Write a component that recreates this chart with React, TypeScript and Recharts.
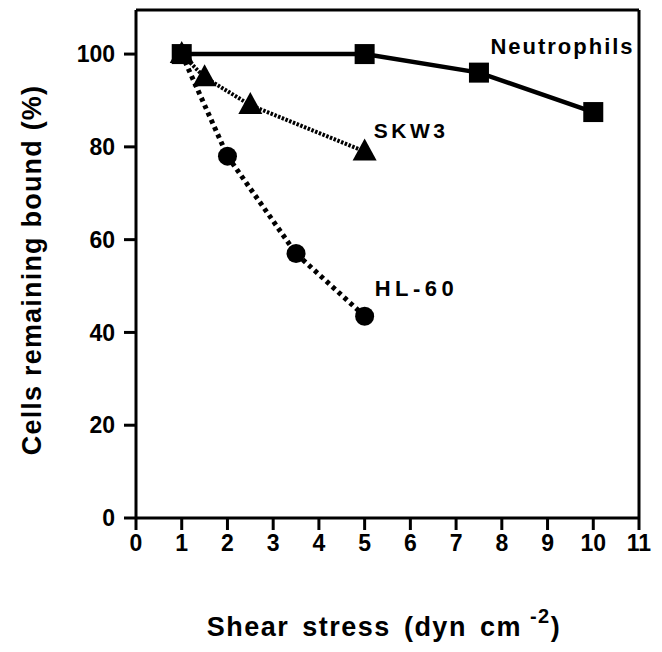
import React from "react";
import {
  LineChart,
  Line,
  XAxis,
  YAxis,
  ReferenceLine,
  ReferenceDot,
} from "recharts";

// values
const neutroX = [1, 5, 7.5, 10];
const neutroY = [100, 100, 96, 87.5];
const skw3X = [1, 1.5, 2.5, 5];
const skw3Y = [100, 95, 89, 79];
const hl60X = [1, 2, 3.5, 5];
const hl60Y = [100, 78, 57, 43.5];

const xTicks = [0, 1, 2, 3, 4, 5, 6, 7, 8, 9, 10, 11];
const yTicks = [0, 20, 40, 60, 80, 100];

const labelNames = ["Neutrophils", "SKW3", "HL-60"];
const labelX = [7.75, 5.2, 5.22];
const labelY = [101.7, 83.5, 49.4];

const FONT = '"Liberation Sans", Arial, Helvetica, sans-serif';

const toPoints = (xs: number[], ys: number[]) =>
  xs.map((x, i) => ({ x, y: ys[i] }));

const squareDot = (props: any) => {
  const { cx, cy, index } = props;
  return <rect key={"s" + index} x={cx - 10} y={cy - 10} width={20} height={20} fill="#000" />;
};

const triangleDot = (props: any) => {
  const { cx, cy, index } = props;
  return (
    <polygon
      key={"t" + index}
      points={`${cx},${cy - 13} ${cx - 12},${cy + 9} ${cx + 12},${cy + 9}`}
      fill="#000"
    />
  );
};

const circleDot = (props: any) => {
  const { cx, cy, index } = props;
  return <circle key={"c" + index} cx={cx} cy={cy} r={9.5} fill="#000" />;
};

const labelSize = [22, 21, 22];
const labelSpacing = [2, 3.5, 4.5];

const annotation = (text: string, size: number, spacing: number) => (props: any) => {
  const { x, y } = props.viewBox;
  return (
    <text
      x={x}
      y={y}
      dominantBaseline="central"
      fontFamily={FONT}
      fontWeight={700}
      fontSize={size}
      letterSpacing={spacing}
      fill="#000"
    >
      {text}
    </text>
  );
};

const xTitle = () => (
  <text
    x={384}
    y={636}
    textAnchor="middle"
    fontFamily={FONT}
    fontWeight={700}
    fontSize={27}
    letterSpacing={1.5}
    wordSpacing={4}
    fill="#000"
  >
    Shear stress (dyn cm
    <tspan fontSize={20} dy={-13} dx={8}>-2</tspan>
    <tspan dy={13}>)</tspan>
  </text>
);

const yTitle = () => (
  <text
    x={32}
    y={270}
    transform="rotate(-90 32 270)"
    textAnchor="middle"
    dominantBaseline="central"
    fontFamily={FONT}
    fontWeight={700}
    fontSize={27}
    letterSpacing={1.2}
    fill="#000"
  >
    Cells remaining bound (%)
  </text>
);

const tickStyle = { fill: "#000", fontSize: 23, fontWeight: 700, fontFamily: FONT };
const lineStyle = { stroke: "#000", strokeWidth: 3 };

export default function App() {
  return (
    <div style={{ position: "absolute", left: 0, top: 0, background: "#fff" }}>
      <LineChart
        width={662}
        height={652}
        margin={{ top: 10, right: 23, bottom: 0, left: 0 }}
      >
        <XAxis
          type="number"
          dataKey="x"
          domain={[0, 11]}
          ticks={xTicks}
          interval={0}
          height={134}
          tick={tickStyle}
          tickSize={12}
          tickMargin={5}
          axisLine={lineStyle}
          tickLine={lineStyle}
          label={{ content: xTitle }}
        />
        <YAxis
          type="number"
          dataKey="y"
          domain={[0, 109.5]}
          ticks={yTicks}
          interval={0}
          width={136}
          tick={tickStyle}
          tickSize={12}
          tickMargin={9}
          axisLine={lineStyle}
          tickLine={lineStyle}
          label={{ content: yTitle }}
        />
        <ReferenceLine x={11} stroke="#000" strokeWidth={3} />
        <ReferenceLine y={109.5} stroke="#000" strokeWidth={3} />
        <Line
          data={toPoints(hl60X, hl60Y)}
          dataKey="y"
          stroke="#000"
          strokeWidth={5}
          strokeDasharray="4 4"
          dot={circleDot}
          isAnimationActive={false}
        />
        <Line
          data={toPoints(skw3X, skw3Y)}
          dataKey="y"
          stroke="#000"
          strokeWidth={4}
          strokeDasharray="2.5 1.5"
          dot={triangleDot}
          isAnimationActive={false}
        />
        <Line
          data={toPoints(neutroX, neutroY)}
          dataKey="y"
          stroke="#000"
          strokeWidth={4.5}
          dot={squareDot}
          isAnimationActive={false}
        />
        {labelNames.map((name, i) => (
          <ReferenceDot
            key={name}
            x={labelX[i]}
            y={labelY[i]}
            r={0}
            fill="none"
            stroke="none"
            label={{ content: annotation(name, labelSize[i], labelSpacing[i]) }}
          />
        ))}
      </LineChart>
    </div>
  );
}
